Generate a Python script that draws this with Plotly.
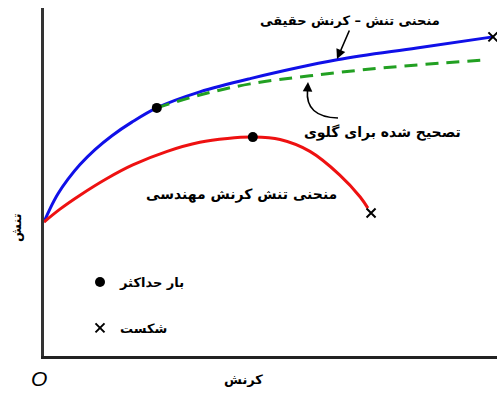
import plotly.graph_objects as go

# True stress-strain curve (arbitrary units)
true_strain = [0, 1.32, 3.09, 5.30, 7.95, 11.26, 15.0, 19.4, 24.9, 34.4, 45.5, 64.7, 82.3, 99.1]
true_stress = [38.5, 42.3, 46.6, 50.8, 55.0, 59.3, 63.3, 67.2, 71.3, 75.9, 79.7, 85.1, 88.5, 91.7]

# Engineering stress-strain curve
eng_strain = [0, 3.53, 7.95, 13.9, 19.6, 27.2, 34.4, 40.5, 46.1, 52.1, 58.7, 65.3, 69.8, 71.5]
eng_stress = [38.5, 42.2, 46.2, 51.0, 54.9, 58.8, 61.4, 62.5, 62.9, 62.2, 58.8, 52.0, 45.7, 42.5]

# Corrected for necking
corr_strain = [24.9, 34.4, 45.5, 58.7, 74.8, 97.8]
corr_stress = [71.3, 75.0, 78.2, 80.5, 82.8, 85.1]

# Maximum load points (true, engineering)
max_strain = [24.9, 46.1]
max_stress = [71.3, 62.9]

# Fracture points (true, engineering)
frac_strain = [99.1, 72.2]
frac_stress = [91.7, 41.1]

lbl_true = "منحنی تنش – کرنش حقیقی"
lbl_corr = "تصحیح شده برای گلوی"
lbl_eng = "منحنی تنش کرنش مهندسی"
lbl_max = "بار حداکثر"
lbl_frac = "شکست"
lbl_y = "تنش"
lbl_x = "کرنش"

FONT = "DejaVu Sans"
W, H = 497, 394
ML, MR, MT, MB = 44, 0, 8, 38
PW, PH = W - ML - MR, H - MT - MB


def px(xp):
    return (xp - ML) / PW * 100


def py(yp):
    return (H - MB - yp) / PH * 100


fig = go.Figure()
fig.add_trace(go.Scatter(x=true_strain, y=true_stress, mode="lines",
                         line=dict(color="#1010e8", width=3, shape="spline", smoothing=1.0),
                         showlegend=False, hoverinfo="skip"))
fig.add_trace(go.Scatter(x=corr_strain, y=corr_stress, mode="lines",
                         line=dict(color="#22a022", width=3, dash="13px,8px", shape="spline"),
                         showlegend=False, hoverinfo="skip"))
fig.add_trace(go.Scatter(x=eng_strain, y=eng_stress, mode="lines",
                         line=dict(color="#ee1111", width=3, shape="spline", smoothing=1.0),
                         showlegend=False, hoverinfo="skip"))
fig.add_trace(go.Scatter(x=max_strain, y=max_stress, mode="markers", name="<b>%s</b>" % lbl_max,
                         legendgroup="a",
                         marker=dict(color="black", size=10, symbol="circle")))
fig.add_trace(go.Scatter(x=frac_strain, y=frac_stress, mode="markers", name="<b>%s</b>" % lbl_frac,
                         legendgroup="b",
                         marker=dict(color="black", size=9, symbol="x-thin",
                                     line=dict(color="black", width=2))))

anns = [
    dict(x=px(350), y=py(20), text="<b>%s</b>" % lbl_true, showarrow=False,
         font=dict(size=13, color="black", family=FONT)),
    dict(x=px(382), y=py(132), text="<b>%s</b>" % lbl_corr, showarrow=False,
         font=dict(size=14, color="black", family=FONT)),
    dict(x=px(241), y=py(194), text="<b>%s</b>" % lbl_eng, showarrow=False,
         font=dict(size=14, color="black", family=FONT)),
    # arrow to true curve
    dict(x=px(337), y=py(59), ax=px(350), ay=py(29), axref="x", ayref="y",
         text="", showarrow=True, arrowhead=2, arrowsize=1.2,
         arrowwidth=1.6, arrowcolor="black"),
    # arrowhead for necking correction
    dict(x=px(308), y=py(82), ax=px(307.5), ay=py(92), axref="x", ayref="y",
         text="", showarrow=True, arrowhead=2, arrowsize=1.2,
         arrowwidth=1.6, arrowcolor="black"),
]
for a in anns:
    a.setdefault("xref", "x")
    a.setdefault("yref", "y")
    fig.add_annotation(**a)

# labels outside the plotting area (paper coordinates)
outside = [
    dict(x=px(243) / 100, y=py(379) / 100, text="<b>%s</b>" % lbl_x,
         font=dict(size=13, color="black", family=FONT)),
    dict(x=px(16) / 100, y=py(228) / 100, text="<b>%s</b>" % lbl_y, textangle=-90,
         font=dict(size=13, color="black", family=FONT)),
    dict(x=px(39) / 100, y=py(378) / 100, text="<i>O</i>",
         font=dict(size=21, color="black", family="Liberation Sans")),
]
for a in outside:
    fig.add_annotation(xref="paper", yref="paper", showarrow=False,
                       xanchor="center", yanchor="middle", **a)

fig.add_shape(type="path", xref="x", yref="y",
              path="M %f,%f Q %f,%f %f,%f" % (px(338), py(118), px(305), py(117), px(307.5), py(90)),
              line=dict(color="black", width=1.6))

fig.update_layout(
    width=W, height=H,
    margin=dict(l=ML, r=MR, t=MT, b=MB),
    paper_bgcolor="white", plot_bgcolor="white",
    showlegend=True,
    legend=dict(x=px(80) / 100, y=py(267) / 100, xanchor="left", yanchor="top",
                font=dict(size=13, color="black", family=FONT),
                bgcolor="rgba(0,0,0,0)", tracegroupgap=26, itemwidth=30),
    xaxis=dict(range=[0, 100], showgrid=False, zeroline=False, showticklabels=False,
               ticks="", showline=True, linecolor="#222", linewidth=2.5, fixedrange=True),
    yaxis=dict(range=[0, 100], showgrid=False, zeroline=False, showticklabels=False,
               ticks="", showline=True, linecolor="#333", linewidth=2.5, fixedrange=True),
)

fig.write_html("out.html")
